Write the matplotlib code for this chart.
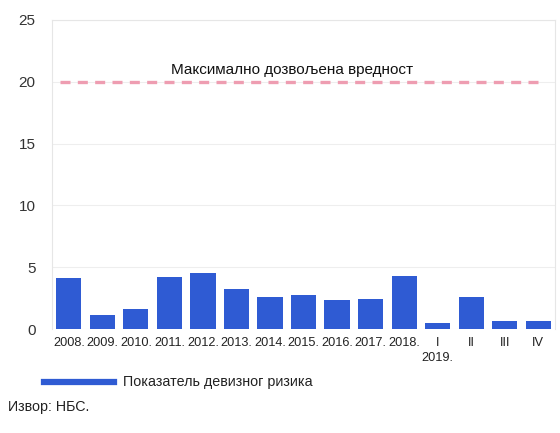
import matplotlib
matplotlib.use("Agg")
import matplotlib.pyplot as plt
import numpy as np

plt.rcParams['font.family'] = ['Liberation Sans', 'DejaVu Sans']

# data
labels = ['2008.', '2009.', '2010.', '2011.', '2012.', '2013.', '2014.', '2015.',
          '2016.', '2017.', '2018.', 'I', 'II', 'III', 'IV']
values = [4.1, 1.1, 1.65, 4.2, 4.57, 3.27, 2.58, 2.79, 2.37, 2.4, 4.33,
          0.53, 2.58, 0.64, 0.64]
max_allowed = 20
series_name = 'Показатель девизног ризика'
max_label = 'Максимално дозвољена вредност'
year_label = '2019.'
source = 'Извор: НБС.'

fig = plt.figure(figsize=(5.6, 4.33), dpi=100)
ax = fig.add_axes([0.093, 0.24, 0.898, 0.714])

x = np.arange(len(labels))
ax.bar(x, values, width=0.75, color='#2f5bd3', zorder=3)

# max allowed value line
ax.hlines(max_allowed, -0.25, 14.1, colors='#ee9db1', linestyles=(0, (3, 2.2)),
          linewidth=2.4, zorder=2)
ax.text(6.65, max_allowed + 0.4, max_label, ha='center', va='bottom', fontsize=11,
        color='#111111')

ax.set_xlim(-0.5, len(labels) - 0.5)
ax.set_ylim(0, 25)
ax.set_yticks([0, 5, 10, 15, 20, 25])
ax.set_xticks(x)
ax.set_xticklabels(labels, fontsize=9.2, color='#222222')
ax.tick_params(axis='both', length=0)
ax.tick_params(axis='y', labelsize=11, labelcolor='#333333', pad=12)
ax.tick_params(axis='x', pad=6)

ax.grid(axis='y', color='#eeeeee', linewidth=0.8, zorder=0)
for s in ax.spines.values():
    s.set_color('#e6e6e6')
    s.set_linewidth(0.8)
ax.spines['bottom'].set_visible(False)

ax.text(11, -1.85, year_label, ha='center', va='top', fontsize=9.2, color='#222222')

# legend drawn by hand
fig.add_artist(plt.Line2D([44 / 560, 114 / 560], [1 - 382 / 433, 1 - 382 / 433],
                          color='#2f5bd3', linewidth=4.5))
fig.text(123 / 560, 1 - 382 / 433, series_name, fontsize=10.3, va='center',
         color='#222222')
fig.text(8 / 560, 1 - 407 / 433, source, fontsize=10.3, va='center', color='#222222')

fig.savefig('out.png', dpi=100)
